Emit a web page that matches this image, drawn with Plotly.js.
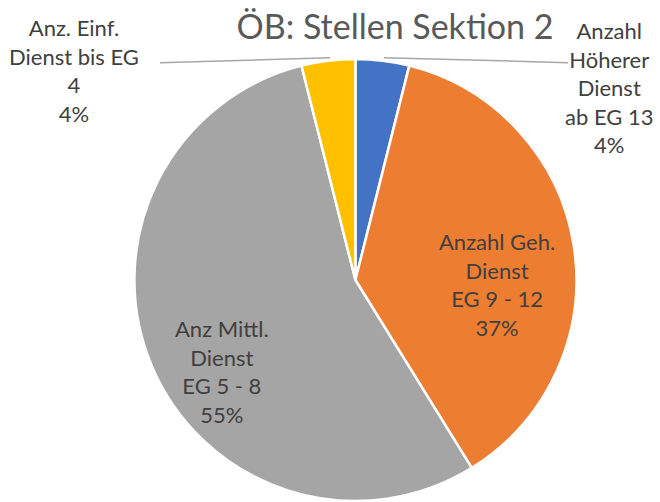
<!DOCTYPE html>
<html>
<head>
<meta charset="utf-8">
<script src="https://cdn.plot.ly/plotly-3.0.1.min.js"></script>
<style>html,body{margin:0;padding:0;background:#fff;}#chart{width:660px;height:502px;}</style>
</head>
<body>
<div id="chart"></div>
<script>
// Data
const categories = [
  "Anzahl<br>Höherer<br>Dienst<br>ab EG 13",
  "Anzahl Geh.<br>Dienst<br>EG 9 - 12",
  "Anz Mittl.<br>Dienst<br>EG 5 - 8",
  "Anz. Einf.<br>Dienst bis EG<br>4"
];
const values = [2, 19, 28, 2];
const colors = ["#4472C4", "#ED7D31", "#A5A5A5", "#FFC000"];
const titleText = "ÖB: Stellen Sektion 2";

const FONT = "Lato, 'Open Sans', sans-serif";
const total = values.reduce((a, b) => a + b, 0);
const pct = values.map(v => Math.round(100 * v / total) + "%");

// label anchor positions in pixels (layout only)
const labelPos = [[609, 87], [497, 284], [222, 371], [74, 71]];

const trace = {
  type: "pie",
  labels: categories,
  values: values,
  sort: false,
  direction: "clockwise",
  rotation: 0,
  marker: {colors: colors, line: {color: "#ffffff", width: 2.5}},
  textinfo: "none",
  hoverinfo: "label+percent",
  showlegend: false,
  domain: {x: [0.203, 0.874], y: [0.002, 0.8825]}
};

const annotations = categories.map((c, i) => ({
  text: c + "<br>" + pct[i],
  x: labelPos[i][0] / 660, y: 1 - labelPos[i][1] / 502,
  xref: "paper", yref: "paper", xanchor: "center", yanchor: "middle",
  showarrow: false, align: "center",
  font: {family: FONT, size: 22, color: "#404040"}
}));

const shapes = [
  {x0: 160/660, y0: 1 - 62.7/502, x1: 330/660, y1: 1 - 57.7/502},
  {x0: 384/660, y0: 1 - 57.7/502, x1: 568/660, y1: 1 - 62.7/502}
].map(s => Object.assign({type: "line", xref: "paper", yref: "paper",
  line: {color: "#A6A6A6", width: 1.5}}, s));

const layout = {
  width: 660, height: 502,
  margin: {l: 0, r: 0, t: 0, b: 0},
  paper_bgcolor: "#ffffff",
  title: {text: titleText, x: 395/660, xanchor: "center", y: 1 - 27/502, yanchor: "middle",
          font: {family: FONT, size: 34, color: "#595959"}},
  annotations: annotations,
  shapes: shapes
};

Plotly.newPlot("chart", [trace], layout, {displayModeBar: false, staticPlot: true});
</script>
</body>
</html>
